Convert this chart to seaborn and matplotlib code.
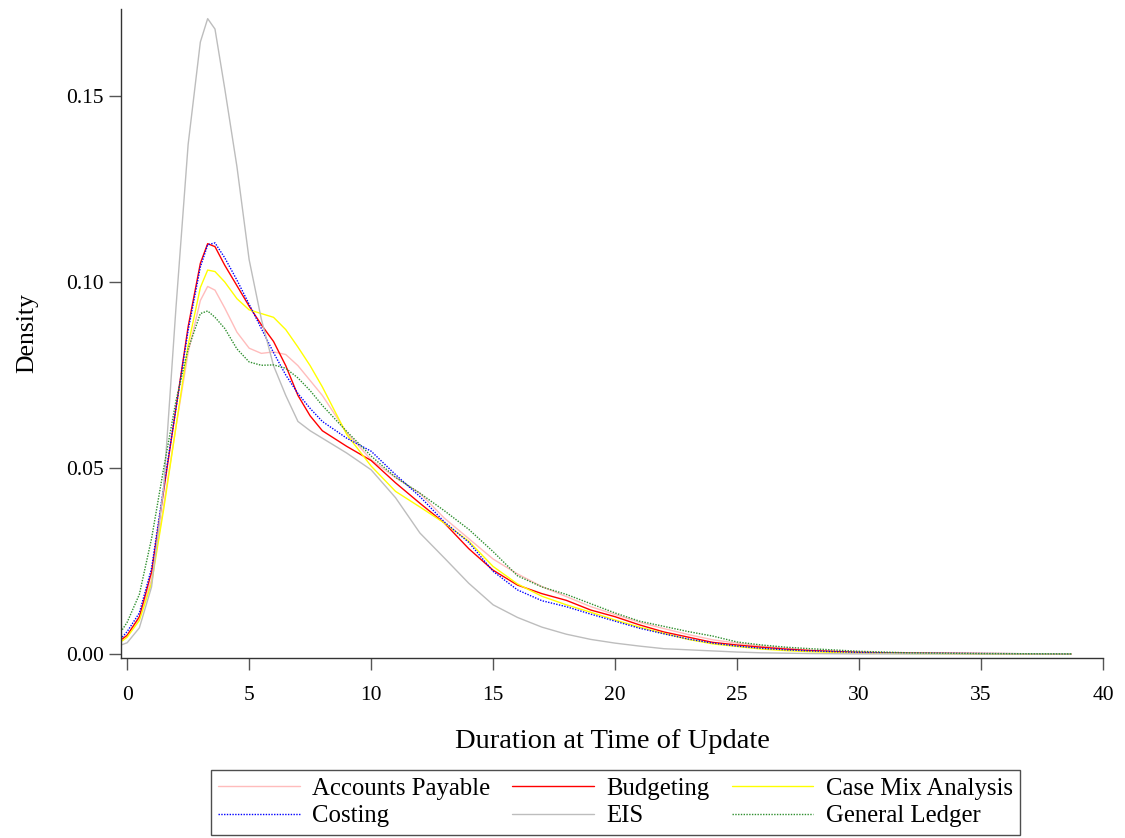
import matplotlib.pyplot as plt
import seaborn as sns
import numpy as np

# evaluation points (duration) shared by every curve
duration = [-0.2, 0, 0.5, 1, 1.5, 2, 2.5, 3, 3.3, 3.6, 4, 4.5, 5, 5.5, 6, 6.5, 7, 7.5, 8,
            9, 10, 11, 12, 13, 14, 15, 16, 17, 18, 19, 20, 21, 22, 23, 24, 25, 26, 27, 28,
            30, 32, 35, 38.7]

accounts_payable = [0.0040, 0.0050, 0.0095, 0.0200, 0.0400, 0.0610, 0.0810, 0.0950, 0.0988,
                    0.0978, 0.0930, 0.0865, 0.0822, 0.0808, 0.0812, 0.0805, 0.0775, 0.0735,
                    0.0695, 0.0595, 0.0522, 0.0474, 0.0432, 0.0365, 0.0310, 0.0255, 0.0215,
                    0.0181, 0.0154, 0.0127, 0.0106, 0.0085, 0.0068, 0.0052, 0.0038, 0.0029,
                    0.0021, 0.0015, 0.0010, 0.0005, 0.0002, 0.0001, 0.0]
budgeting = [0.0040, 0.0050, 0.0100, 0.0220, 0.0440, 0.0660, 0.0880, 0.1050, 0.1103, 0.1095,
             0.1045, 0.0990, 0.0935, 0.0885, 0.0840, 0.0775, 0.0695, 0.0640, 0.0600, 0.0558,
             0.0520, 0.0460, 0.0405, 0.0352, 0.0283, 0.0225, 0.0185, 0.0162, 0.0144, 0.0118,
             0.0100, 0.0078, 0.0059, 0.0045, 0.0031, 0.0024, 0.0018, 0.0013, 0.0009, 0.0004,
             0.0002, 0.0001, 0.0]
case_mix = [0.0035, 0.0045, 0.0090, 0.0190, 0.0390, 0.0610, 0.0830, 0.0985, 0.1032, 0.1028,
            0.1000, 0.0955, 0.0925, 0.0915, 0.0905, 0.0872, 0.0825, 0.0775, 0.0718, 0.0590,
            0.0505, 0.0437, 0.0395, 0.0352, 0.0303, 0.0235, 0.0188, 0.0155, 0.0132, 0.0112,
            0.0091, 0.0072, 0.0055, 0.0039, 0.0027, 0.0020, 0.0013, 0.0009, 0.0006, 0.0002,
            0.0001, 0.0, 0.0]
costing = [0.0045, 0.0060, 0.0110, 0.0230, 0.0450, 0.0660, 0.0870, 0.1040, 0.1100, 0.1105,
           0.1065, 0.1005, 0.0940, 0.0875, 0.0810, 0.0750, 0.0700, 0.0660, 0.0625, 0.0580,
           0.0545, 0.0482, 0.0423, 0.0355, 0.0300, 0.0222, 0.0172, 0.0143, 0.0127, 0.0107,
           0.0088, 0.0069, 0.0054, 0.0040, 0.0029, 0.0021, 0.0015, 0.0011, 0.0008, 0.0004,
           0.0002, 0.0001, 0.0]
eis = [0.0025, 0.0030, 0.0070, 0.0180, 0.0450, 0.0930, 0.1370, 0.1645, 0.1708, 0.1680,
       0.1520, 0.1310, 0.1060, 0.0900, 0.0775, 0.0695, 0.0625, 0.0600, 0.0580, 0.0540,
       0.0495, 0.0420, 0.0325, 0.0258, 0.0190, 0.0132, 0.0098, 0.0072, 0.0053, 0.0039,
       0.0029, 0.0021, 0.0014, 0.0011, 0.0008, 0.0005, 0.0003, 0.0002, 0.0001, 0.0,
       0.0, 0.0, 0.0]
general_ledger = [0.0065, 0.0085, 0.0160, 0.0310, 0.0500, 0.0680, 0.0820, 0.0915, 0.0922,
                  0.0905, 0.0875, 0.0820, 0.0785, 0.0776, 0.0777, 0.0768, 0.0742, 0.0708,
                  0.0668, 0.0598, 0.0532, 0.0475, 0.0432, 0.0385, 0.0335, 0.0275, 0.0210,
                  0.0180, 0.0160, 0.0135, 0.0110, 0.0088, 0.0074, 0.0060, 0.0048, 0.0032,
                  0.0024, 0.0018, 0.0014, 0.0007, 0.0003, 0.0001, 0.0]

labels = ["Accounts Payable", "Budgeting", "Case Mix Analysis",
          "Costing", "EIS", "General Ledger"]
series = [accounts_payable, budgeting, case_mix, costing, eis, general_ledger]
colors = ["#ffbcbc", "#ff0000", "#ffff00", "#0000ff", "#bdbdbd", "#2f8f2f"]
dashes = ["-", "-", "-", (0, (1, 1)), "-", (0, (1, 1))]

sns.set_style("white")
plt.rcParams["font.family"] = ["Liberation Serif", "DejaVu Serif"]
plt.rcParams["text.color"] = "black"
plt.rcParams["axes.labelcolor"] = "black"

fig = plt.figure(figsize=(11.25, 8.38), dpi=100)
ax = fig.add_axes([0.1076, 0.2148, 0.8729, 0.7745])

for lab, ys, col, ls in zip(labels, series, colors, dashes):
    sns.lineplot(x=duration, y=ys, ax=ax, color=col, linestyle=ls, linewidth=1.0, label=lab)

ax.set_xlim(-0.25, 40)
ax.set_ylim(-0.0011, 0.1734)
ax.set_xticks(np.arange(0, 41, 5))
ax.set_yticks([0, 0.05, 0.10, 0.15])
ax.set_yticklabels(["0.00", "0.05", "0.10", "0.15"])

for s in ["top", "right"]:
    ax.spines[s].set_visible(False)
for s in ["left", "bottom"]:
    ax.spines[s].set_color("#333333")
    ax.spines[s].set_linewidth(1.0)
ax.tick_params(bottom=True, left=True, direction="out", length=8.5, width=1.0,
               color="#555555", labelcolor="black", labelsize=15.5, pad=4)
ax.tick_params(axis="x", pad=12)

ax.set_xlabel("Duration at Time of Update", fontsize=20.5, labelpad=17)
ax.set_ylabel("Density", fontsize=18.5, labelpad=20)

# legend filled row by row, as in the original
ax.get_legend().remove()
handles, labs = ax.get_legend_handles_labels()
order = [0, 3, 1, 4, 2, 5]
leg = fig.legend([handles[i] for i in order], [labs[i] for i in order], loc="center",
                 bbox_to_anchor=(0.547, 0.0424), ncol=3, fontsize=17.8, frameon=True,
                 fancybox=False, handlelength=3.3, handletextpad=0.5, columnspacing=0.9,
                 labelspacing=0.2, borderpad=0.3, borderaxespad=0)
leg.get_frame().set_edgecolor("#222222")
leg.get_frame().set_linewidth(1.0)

fig.savefig("out.png", dpi=100)
